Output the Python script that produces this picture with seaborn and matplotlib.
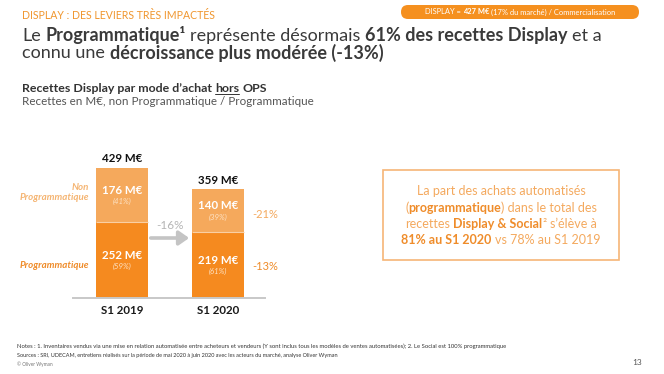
import matplotlib
matplotlib.use("Agg")
import matplotlib.pyplot as plt
import seaborn as sns
import pandas as pd
from matplotlib.transforms import Affine2D
from matplotlib.patches import FancyBboxPatch, Rectangle
from matplotlib.lines import Line2D

# ---------------- data ----------------
periods = ["S1 2019", "S1 2020"]
totals = [429, 359]
programmatique = [252, 219]
non_programmatique = [176, 140]
prog_share = ["(59%)", "(61%)"]
nonprog_share = ["(41%)", "(39%)"]
total_change = "-16%"
nonprog_change = "-21%"
prog_change = "-13%"

# ---------------- style ----------------
sns.set_theme(style="white")
plt.rcParams["font.family"] = ["Lato", "DejaVu Sans"]

DARK = "#F58A1F"
LIGHT = "#F5A95C"
TXT_LIGHT = "#F4A95E"
TXT_DARK = "#EF8C2A"
GREY_TXT = "#404040"
W, H = 664, 374

fig = plt.figure(figsize=(W / 100, H / 100), dpi=100)
fig.patch.set_facecolor("white")
T = Affine2D().scale(1, -1).translate(0, H)  # pixel coords, y from top
renderer = fig.canvas.get_renderer()


def measure(s, **kw):
    t = fig.text(0, 0, s, transform=T, **kw)
    w = t.get_window_extent(renderer).width
    t.remove()
    return w


def rich(x, y, parts, size, ha="left", color=GREY_TXT, underline=()):
    """parts: list of (text, weight, color or None)"""
    items = []
    total = 0.0
    for txt, weight, col in parts:
        kw = dict(fontsize=size, fontweight=weight)
        sp = measure("a a", **kw) - measure("aa", **kw)
        lead = len(txt) - len(txt.lstrip(" "))
        trail = len(txt) - len(txt.rstrip(" "))
        core = txt.strip(" ")
        w = measure(core, **kw) if core else 0.0
        total += lead * sp
        items.append((total, core, kw, col or color, w))
        total += w + trail * sp
    x0 = x - total / 2 if ha == "center" else x
    for i, (off, core, kw, col, w) in enumerate(items):
        fig.text(x0 + off, y, core, transform=T, color=col, va="baseline",
                 ha="left", **kw)
        if i in underline:
            fig.add_artist(Line2D([x0 + off, x0 + off + w], [y + 1.6, y + 1.6],
                                  transform=T, color=col, lw=0.7))
    return total


# ---------------- header ----------------
fig.text(22, 19, "DISPLAY : DES LEVIERS TRÈS IMPACTÉS", transform=T,
         fontsize=7.6, color="#F0962E", va="baseline")

badge = FancyBboxPatch((401, 5), 238, 14, boxstyle="round,pad=0,rounding_size=7",
                       transform=T, facecolor="#F5901F", edgecolor="none")
fig.add_artist(badge)
rich(520, 14.5, [("DISPLAY = ", "normal", None), ("427 M€", "bold", None),
                 (" (17% du marché) / Commercialisation", "normal", None)],
     5.4, ha="center", color="white")

rich(22, 41, [("Le ", "normal", None), ("Programmatique¹", "bold", None),
              (" représente désormais ", "normal", None),
              ("61% des recettes Display", "bold", None), (" et a", "normal", None)],
     13.0, color="#3A3A3A")
rich(22, 58.5, [("connu une ", "normal", None),
                ("décroissance plus modérée (-13%)", "bold", None)],
     13.0, color="#3A3A3A")

rich(22, 92.3, [("Recettes Display par mode d’achat ", "bold", None),
                ("hors", "bold", None), (" OPS", "bold", None)],
     8.9, color="#333333", underline=(1,))
fig.text(22, 104.8, "Recettes en M€, non Programmatique / Programmatique",
         transform=T, fontsize=8.4, color="#555555", va="baseline")

# ---------------- chart ----------------
ax_left, ax_right, ax_bottom = 73, 265, 298
ylim_top = 520
px_per_unit = 130 / 429
ax_h = ylim_top * px_per_unit
ax = fig.add_axes([ax_left / W, (H - ax_bottom) / H, (ax_right - ax_left) / W, ax_h / H])

df = pd.DataFrame({"period": periods, "total": totals, "prog": programmatique})
sns.barplot(data=df, x="period", y="total", color=LIGHT, saturation=1,
            width=0.54, ax=ax, linewidth=0)
sns.barplot(data=df, x="period", y="prog", color=DARK, saturation=1,
            width=0.54, ax=ax, linewidth=0)
for p in ax.patches[len(periods):]:
    ax.plot([p.get_x(), p.get_x() + p.get_width()], [p.get_height()] * 2,
            color="#F9CFA3", lw=0.8, solid_capstyle="butt")

ax.set_xlim(-0.51, 1.49)
ax.set_ylim(0, ylim_top)
ax.set_xlabel("")
ax.set_ylabel("")
ax.set_yticks([])
for s in ["top", "right", "left"]:
    ax.spines[s].set_visible(False)
ax.spines["bottom"].set_color("#C8C8C8")
ax.spines["bottom"].set_linewidth(1.4)
ax.tick_params(axis="x", length=0, pad=5)
ax.set_xticks(range(len(periods)))
ax.set_xticklabels(periods, fontsize=8.3, fontweight="bold", color="#1A1A1A")
ax.patch.set_alpha(0)

for i in range(len(periods)):
    prog_mid = programmatique[i] / 2
    np_mid = (programmatique[i] + totals[i]) / 2
    for mid, val, share in [(np_mid, non_programmatique[i], nonprog_share[i]),
                            (prog_mid, programmatique[i], prog_share[i])]:
        ax.annotate(f"{val} M€", (i, mid), xytext=(0, 4.5), textcoords="offset pixels",
                    ha="center", va="center", color="white", fontsize=8.3,
                    fontweight="bold")
        ax.annotate(share, (i, mid), xytext=(0, -6.5), textcoords="offset pixels",
                    ha="center", va="center", color="#FDE3C6", fontsize=5.6,
                    fontstyle="italic")
    ax.annotate(f"{totals[i]} M€", (i, totals[i]), xytext=(0, 3.5),
                textcoords="offset pixels", ha="center", va="bottom",
                color="#111111", fontsize=8.3, fontweight="bold")

# left category labels
ax.annotate("Non\nProgrammatique", (-0.345, (programmatique[0] + totals[0]) / 2),
            xytext=(0, 2), textcoords="offset pixels", ha="right", va="center",
            color="#F5B573", fontsize=7, fontweight="bold", fontstyle="italic",
            linespacing=1.15, annotation_clip=False)
ax.annotate("Programmatique", (-0.345, programmatique[0] / 2), xytext=(0, -6),
            textcoords="offset pixels", ha="right", va="center", color=TXT_DARK,
            fontsize=7, fontweight="bold", fontstyle="italic", annotation_clip=False)

# right change labels
ax.annotate(nonprog_change, (1.36, (programmatique[1] + totals[1]) / 2), xytext=(0, -4),
            textcoords="offset pixels", ha="left", va="center", color=TXT_LIGHT,
            fontsize=8, annotation_clip=False)
ax.annotate(prog_change, (1.36, programmatique[1] / 2), xytext=(0, -2),
            textcoords="offset pixels", ha="left", va="center", color=TXT_DARK,
            fontsize=8, annotation_clip=False)

# total change arrow
ax.annotate("", xy=(0.70, 198), xytext=(0.30, 198),
            arrowprops=dict(arrowstyle="-|>,head_length=0.5,head_width=0.35",
                            color="#C4C4C4", lw=2.6, shrinkA=0, shrinkB=0))
ax.text(0.5, 238, total_change, ha="center", va="center", color="#B5B5B5",
        fontsize=8.5)

# ---------------- callout ----------------
fig.add_artist(Rectangle((383, 170), 236, 90, transform=T, facecolor="none",
                         edgecolor="#F6B577", lw=1.2))
cx = 501
CS = 9.0
rich(cx, 195, [("La part des achats automatisés", "normal", None)], CS,
     ha="center", color=TXT_LIGHT)
rich(cx, 211.5, [("(", "normal", None), ("programmatique", "bold", TXT_DARK),
                 (") dans le total des", "normal", None)], CS, ha="center",
     color=TXT_LIGHT)
rich(cx, 228, [("recettes ", "normal", None), ("Display & Social", "bold", TXT_DARK),
               ("²", "normal", None), (" s’élève à", "normal", None)], CS,
     ha="center", color=TXT_LIGHT)
rich(cx, 244.5, [("81% au S1 2020", "bold", TXT_DARK),
                 (" vs 78% au S1 2019", "normal", None)], CS, ha="center",
     color=TXT_LIGHT)

# ---------------- footer ----------------
fig.text(17, 348, "Notes : 1. Inventaires vendus via une mise en relation automatisée "
         "entre acheteurs et vendeurs (Y sont inclus tous les modèles de ventes "
         "automatisées); 2. Le Social est 100% programmatique",
         transform=T, fontsize=4.2, color="#333333", va="baseline")
fig.text(17, 357, "Sources : SRI, UDECAM, entretiens réalisés sur la période de mai "
         "2020 à juin 2020 avec les acteurs du marché, analyse Oliver Wyman",
         transform=T, fontsize=4.0, color="#333333", va="baseline")
fig.text(17, 366, "© Oliver Wyman", transform=T, fontsize=3.4, color="#777777",
         va="baseline")
fig.text(642, 365, "13", transform=T, fontsize=6, color="#555555", va="baseline",
         ha="right")

fig.savefig("out.png", dpi=100, facecolor="white")
